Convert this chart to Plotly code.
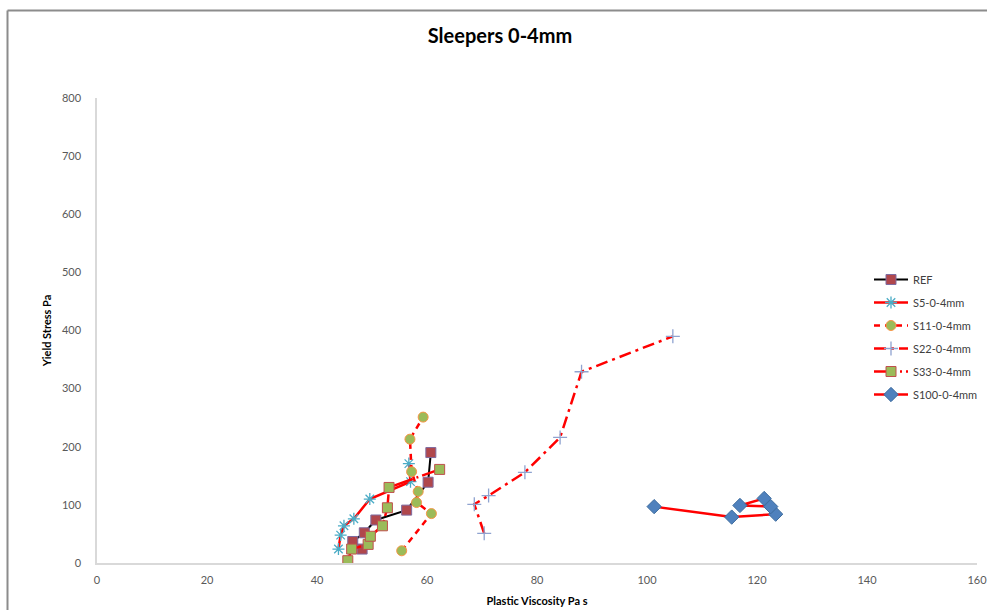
import plotly.graph_objects as go

# Plastic viscosity (Pa s) and yield stress (Pa) per mix
ref_x = [48.2, 46.5, 48.6, 50.7, 56.3, 60.2, 60.7]
ref_y = [24, 37, 52, 74, 91, 139, 190]

s5_x = [43.9, 44.3, 44.9, 46.7, 49.6, 57.0, 56.7]
s5_y = [24, 48, 64, 76, 110, 140, 171]

s11_x = [55.4, 60.8, 58.1, 58.4, 57.2, 56.9, 59.3]
s11_y = [21, 85, 104, 123, 157, 213, 251]

s22_x = [70.4, 68.6, 71.2, 77.8, 84.2, 88.1, 104.7]
s22_y = [51, 101, 116, 156, 216, 329, 390]

s33_x = [45.6, 46.3, 49.3, 49.7, 51.9, 52.8, 53.1, 62.3]
s33_y = [4, 24, 32, 46, 64, 95, 130, 161]

s100_x = [101.3, 115.4, 123.4, 122.5, 116.9, 121.3]
s100_y = [97, 79, 84, 97, 99, 111]

x_ticks = [0, 20, 40, 60, 80, 100, 120, 140, 160]
y_ticks = [0, 100, 200, 300, 400, 500, 600, 700, 800]

FONT = "Lato, 'Open Sans', sans-serif"
RED = "#FF0000"

series = [
    dict(name="REF", x=ref_x, y=ref_y, line=dict(color="#000000", width=2),
         marker=dict(symbol="square", size=10, color="#B0474C",
                     line=dict(color="#7E6BA0", width=1))),
    dict(name="S5-0-4mm", x=s5_x, y=s5_y, line=dict(color=RED, width=2.5),
         marker=dict(symbol="asterisk-open", size=10, color="#4BACC6",
                     line=dict(color="#4BACC6", width=1.3))),
    dict(name="S11-0-4mm", x=s11_x, y=s11_y,
         line=dict(color=RED, width=2.5, dash="6px,5px"),
         marker=dict(symbol="circle", size=10, color="#9BBB59",
                     line=dict(color="#F79646", width=1))),
    dict(name="S22-0-4mm", x=s22_x, y=s22_y,
         line=dict(color=RED, width=2.5, dash="12px,5px,3px,5px"),
         marker=dict(symbol="cross-thin-open", size=10, color="#8FA3D0",
                     line=dict(color="#8FA3D0", width=1.3))),
    dict(name="S33-0-4mm", x=s33_x, y=s33_y,
         line=dict(color=RED, width=2.5, dash="22px,4px,2px,4px"),
         marker=dict(symbol="square", size=10, color="#9BBB59",
                     line=dict(color="#C0504D", width=1))),
    dict(name="S100-0-4mm", x=s100_x, y=s100_y, line=dict(color=RED, width=2.5),
         marker=dict(symbol="diamond", size=11, color="#4F81BD",
                     line=dict(color="#3D6C9E", width=1))),
]

fig = go.Figure()
for i, s in enumerate(series):
    fig.add_trace(go.Scatter(
        x=s["x"], y=s["y"], name=s["name"], mode="lines+markers",
        line=s["line"], marker=s["marker"], legendgroup=f"g{i}",
    ))

W, H = 987, 610
L, R, T, B = 97, 10, 98, 47
pw, ph = W - L - R, H - T - B


def px_to_paper_x(px):
    return (px - L) / pw


def px_to_paper_y(py):
    return (H - B - py) / ph


axis_font = dict(family=FONT, size=11, color="#595959")
title_font = dict(family=FONT, size=11, color="#000000", weight="bold")

fig.update_layout(
    width=W, height=H,
    margin=dict(l=L, r=R, t=T, b=B, autoexpand=False),
    paper_bgcolor="white", plot_bgcolor="white",
    title=dict(text="<b>Sleepers 0-4mm</b>", x=500 / W, xanchor="center",
               y=1 - 36 / H, yanchor="middle",
               font=dict(family=FONT, size=20, color="#000000")),
    xaxis=dict(range=[0, 160], tickvals=x_ticks, ticktext=[str(v) for v in x_ticks],
               showgrid=False, zeroline=False, showline=True, automargin=False,
               linecolor="#D9D9D9", linewidth=1.5, ticks="",
               tickfont=axis_font, ticklabelstandoff=6, ticklabeloverflow="allow",
               title=dict(text="Plastic Viscosity Pa s", font=title_font, standoff=12)),
    yaxis=dict(range=[0, 800], tickvals=y_ticks, ticktext=[str(v) for v in y_ticks],
               showgrid=False, zeroline=False, showline=True, automargin=False,
               linecolor="#D9D9D9", linewidth=1.5, ticks="",
               tickfont=axis_font, ticklabelstandoff=12,
               title=dict(text="Yield Stress Pa", font=title_font, standoff=8)),
    legend=dict(x=px_to_paper_x(869), y=px_to_paper_y(265), xanchor="left", yanchor="top",
                traceorder="grouped", tracegroupgap=4,
                font=dict(family=FONT, size=11, color="#404040"),
                bgcolor="rgba(0,0,0,0)", itemwidth=34),
    showlegend=True,
)

# Outer frame along the left and top edges of the chart area
frame = dict(type="line", xref="paper", yref="paper",
             line=dict(color="#8C8C8C", width=2))
fig.add_shape(**frame, x0=px_to_paper_x(7.5), x1=px_to_paper_x(7.5),
              y0=px_to_paper_y(10.5), y1=px_to_paper_y(612))
fig.add_shape(**frame, x0=px_to_paper_x(7.5), x1=px_to_paper_x(990),
              y0=px_to_paper_y(10.5), y1=px_to_paper_y(10.5))

fig.write_html("out.html")
